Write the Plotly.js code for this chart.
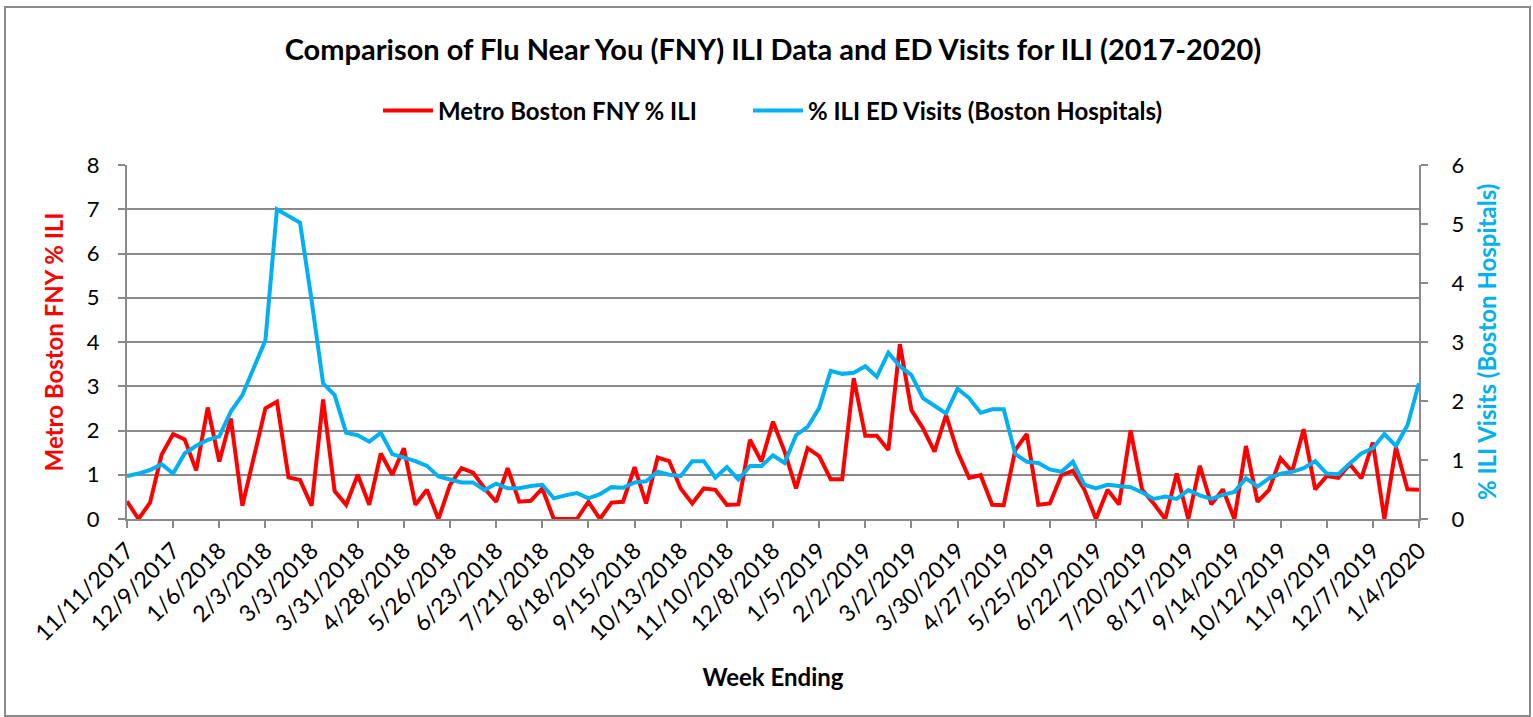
<!DOCTYPE html>
<html>
<head>
<meta charset="utf-8">
<script src="https://cdn.plot.ly/plotly-3.0.1.min.js"></script>
<style>
html,body{margin:0;padding:0;background:#fff;}
#chart{width:1533px;height:717px;}
</style>
</head>
<body>
<div id="chart"></div>
<script>
// Week-ending dates (weekly, 11/11/2017 .. 1/4/2020)
const firstWeek = Date.UTC(2017, 10, 11);
const weekCount = 113;
const weeks = [];
for (let i = 0; i < weekCount; i++) {
  const d = new Date(firstWeek + i * 7 * 86400000);
  weeks.push((d.getUTCMonth() + 1) + '/' + d.getUTCDate() + '/' + d.getUTCFullYear());
}

const tickLabels = ['11/11/2017','12/9/2017','1/6/2018','2/3/2018','3/3/2018','3/31/2018','4/28/2018',
  '5/26/2018','6/23/2018','7/21/2018','8/18/2018','9/15/2018','10/13/2018','11/10/2018','12/8/2018',
  '1/5/2019','2/2/2019','3/2/2019','3/30/2019','4/27/2019','5/25/2019','6/22/2019','7/20/2019',
  '8/17/2019','9/14/2019','10/12/2019','11/9/2019','12/7/2019','1/4/2020'];

// Metro Boston FNY % ILI (left axis)
const fnyIli = [0.4,0,0.37,1.45,1.92,1.8,1.1,2.52,1.3,2.27,
  0.3,1.4,2.5,2.65,0.94,0.88,0.3,2.7,0.63,0.32,
  1.0,0.32,1.48,1.0,1.6,0.32,0.66,0,0.77,1.15,
  1.05,0.69,0.39,1.15,0.39,0.41,0.69,0,0,0,
  0.39,0,0.37,0.39,1.17,0.35,1.39,1.31,0.69,0.35,
  0.69,0.66,0.32,0.33,1.79,1.3,2.2,1.53,0.69,1.6,
  1.42,0.9,0.9,3.18,1.88,1.88,1.56,3.95,2.46,2.05,
  1.52,2.35,1.52,0.93,0.99,0.32,0.31,1.56,1.92,0.32,
  0.35,0.99,1.09,0.66,0,0.66,0.33,2.0,0.66,0.35,
  0,1.03,0,1.2,0.33,0.67,0,1.65,0.39,0.66,
  1.37,1.07,2.03,0.67,0.97,0.93,1.24,0.92,1.73,0,
  1.62,0.67,0.66];

// % ILI ED Visits (Boston Hospitals) (right axis)
const edIli = [0.73,0.77,0.83,0.93,0.77,1.11,1.24,1.34,1.4,1.82,
  2.1,2.58,3.03,5.25,5.14,5.02,3.71,2.3,2.1,1.46,
  1.42,1.31,1.46,1.1,1.04,0.98,0.9,0.72,0.67,0.62,
  0.62,0.49,0.6,0.52,0.52,0.56,0.58,0.35,0.4,0.44,
  0.35,0.42,0.54,0.53,0.62,0.64,0.8,0.75,0.73,0.98,
  0.98,0.7,0.88,0.67,0.9,0.9,1.08,0.95,1.42,1.56,
  1.88,2.51,2.46,2.48,2.59,2.41,2.82,2.59,2.44,2.05,
  1.92,1.79,2.21,2.05,1.8,1.86,1.86,1.1,0.97,0.95,
  0.84,0.8,0.97,0.58,0.52,0.58,0.56,0.54,0.45,0.34,
  0.38,0.34,0.49,0.4,0.34,0.41,0.46,0.69,0.55,0.69,
  0.77,0.8,0.86,0.98,0.77,0.76,0.94,1.11,1.2,1.44,
  1.24,1.59,2.3];

const FONT = 'Lato, "Open Sans", sans-serif';
const GRID = '#8a8a8a';
const RED = '#FF0000';
const BLUE = '#00B0F0';

const traces = [
  {x: weeks, y: fnyIli, type: 'scatter', mode: 'lines', name: '<b>Metro Boston FNY % ILI</b>',
   line: {color: RED, width: 4}, yaxis: 'y', legendwidth: 305},
  {x: weeks, y: edIli, type: 'scatter', mode: 'lines', name: '<b>% ILI ED Visits (Boston Hospitals)</b>',
   line: {color: BLUE, width: 4}, yaxis: 'y2'}
];

const L = 127, R = 114, T = 165, B = 198;
const W = 1533, H = 717;
const pw = W - L - R, ph = H - T - B;
const yBase = T + ph; // pixel row of the x axis

const layout = {
  width: W, height: H,
  paper_bgcolor: '#fff', plot_bgcolor: '#fff',
  margin: {l: L, r: R, t: T, b: B, pad: 0},
  font: {family: FONT, color: '#000', size: 21},
  title: {text: '<b>Comparison of Flu Near You (FNY) ILI Data and ED Visits for ILI (2017-2020)</b>',
    x: 0.5, xref: 'paper', xanchor: 'center', y: 1 - 50 / H, yref: 'container', yanchor: 'middle',
    font: {family: FONT, size: 29, color: '#000'}},
  showlegend: true,
  legend: {orientation: 'h', x: 0.5, xanchor: 'center', y: (yBase - 111) / ph, yanchor: 'middle',
    font: {family: FONT, size: 24, color: '#000'}, bgcolor: 'rgba(0,0,0,0)', itemwidth: 50,
    traceorder: 'normal'},
  xaxis: {type: 'category', range: [0, weekCount - 1], tickmode: 'array', tickvals: tickLabels,
    ticktext: tickLabels, tickangle: -45, ticks: 'outside', ticklen: 7, tickwidth: 2, tickcolor: GRID,
    showline: true, linecolor: GRID, linewidth: 2, showgrid: false, zeroline: false,
    tickfont: {family: FONT, size: 23, color: '#000'},
    title: {text: '<b>Week Ending</b>', font: {family: FONT, size: 24, color: '#000'}, standoff: 24},
    automargin: false, fixedrange: true},
  yaxis: {range: [0, 8], dtick: 1, tick0: 0, showgrid: true, gridcolor: GRID, gridwidth: 2,
    showline: true, linecolor: GRID, linewidth: 2, ticks: 'outside', ticklen: 7, tickwidth: 2,
    tickcolor: GRID, zeroline: false, tickfont: {family: FONT, size: 22, color: '#000'},
    ticklabelstandoff: 14,
    title: {text: '<b>Metro Boston FNY % ILI</b>', font: {family: FONT, size: 24, color: RED}, standoff: 16},
    automargin: false, fixedrange: true},
  yaxis2: {range: [0, 6], dtick: 1, tick0: 0, overlaying: 'y', side: 'right', showgrid: false,
    showline: true, linecolor: GRID, linewidth: 2, ticks: 'outside', ticklen: 7, tickwidth: 2,
    tickcolor: GRID, zeroline: false, tickfont: {family: FONT, size: 22, color: '#000'},
    ticklabelstandoff: 19,
    automargin: false, fixedrange: true},
  annotations: [{text: '<b>% ILI Visits (Boston Hospitals)</b>', xref: 'paper', yref: 'paper',
    x: (1486 - L) / pw, y: (yBase - 342) / ph, xanchor: 'center', yanchor: 'middle', textangle: -90,
    showarrow: false, font: {family: FONT, size: 24, color: BLUE}}],
  shapes: [{type: 'rect', xref: 'paper', yref: 'paper',
    x0: (5 - L) / pw, x1: (1530 - L) / pw, y0: (yBase - 716) / ph, y1: (yBase - 7) / ph,
    line: {color: GRID, width: 2}, fillcolor: 'rgba(0,0,0,0)', layer: 'below'}]
};

Plotly.newPlot('chart', traces, layout, {displayModeBar: false, staticPlot: true});
</script>
</body>
</html>
